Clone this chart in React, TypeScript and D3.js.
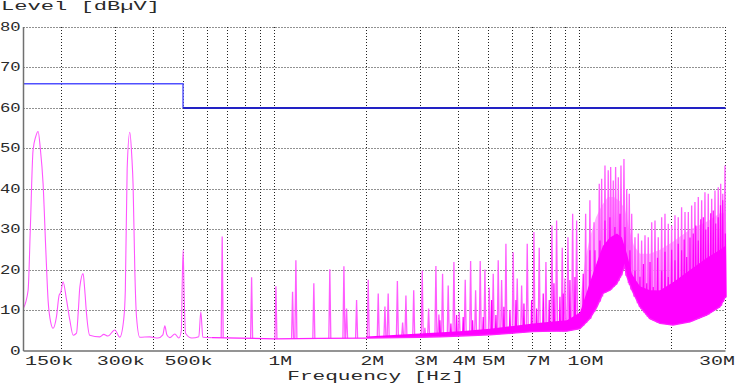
import React from 'react';
import * as d3 from 'd3';

// ---------- axis data ----------
const yTicks = [0, 10, 20, 30, 40, 50, 60, 70, 80];
const xGridMHz = [0.2, 0.3, 0.4, 0.5, 0.6, 0.7, 0.8, 0.9, 1, 2, 3, 4, 5, 6, 7, 8, 9, 10, 20, 30];
const xTickMHz = [0.15, 0.3, 0.5, 1, 2, 3, 4, 5, 7, 10, 30];
const xTickLabels = ['150k', '300k', '500k', '1M', '2M', '3M', '4M', '5M', '7M', '10M', '30M'];

// ---------- limit line ----------
const limitMHz = [0.15, 0.5, 0.5, 30];
const limitDb = [66, 66, 60, 60];

// ---------- measured trace, low band (continuous) ----------
const lowTraceMHz = [0.150, 0.1553, 0.1579, 0.1612, 0.1646, 0.1675, 0.1703, 0.1739, 0.1775, 0.1806, 0.1843, 0.1875, 0.1924, 0.1963, 0.1988, 0.2022, 0.2072, 0.2128, 0.2182, 0.2238, 0.2269, 0.2295, 0.2352, 0.2382, 0.2413, 0.2473, 0.2668, 0.2750, 0.2836, 0.2988, 0.3102, 0.3198, 0.3235, 0.3280, 0.3346, 0.3397, 0.3430, 0.3475, 0.3520, 0.3608, 0.3892, 0.4134, 0.4294, 0.4359, 0.4425, 0.4526, 0.4700, 0.4844, 0.4937, 0.4968, 0.5004, 0.5042, 0.5096, 0.5343, 0.5633, 0.5719, 0.5806, 0.6216];
const lowTraceDb = [10.6, 15, 30, 49.5, 53, 54.2, 50, 41.3, 25, 12.5, 7, 5.6, 8.5, 13.8, 14.5, 17.1, 13, 7.6, 3.9, 4.4, 10, 15.8, 19.1, 15, 9.3, 3.9, 3.5, 4.1, 3.7, 5.2, 3.4, 8, 15, 45, 54, 48, 41, 20, 8.4, 3.4, 3.5, 3.2, 4, 6.2, 4, 3.3, 4.2, 3.2, 5, 16, 25, 14, 4.4, 3.2, 3.5, 9.7, 3.4, 3.3];

// ---------- noise floor (lower edge of trace) ----------
const floorMHz = [0.622, 0.768, 1.0, 1.404, 2.003, 2.57, 2.988, 3.475, 4.043, 5.07, 6.03, 7.013, 8.155, 9.066, 10.0, 10.78, 11.37, 11.90, 12.54, 13.22, 13.73, 13.99, 14.26, 14.81, 15.73, 16.96, 18.30, 20.18, 22.95, 26.09, 28.77, 30.0];
const floorDb = [3.3, 3.2, 3.0, 3.1, 3.2, 3.3, 3.4, 3.5, 3.7, 4.0, 4.4, 4.8, 4.9, 4.9, 5.5, 8, 10.9, 14.2, 15, 16.7, 19.1, 21, 18.3, 15, 10.9, 8, 6.8, 6.4, 7.2, 8.9, 10.9, 13.4];

// ---------- dense dark band upper edge ----------
const darkTopMHz = [2.003, 2.988, 4.043, 5.07, 6.03, 7.013, 8.155, 9.066, 10.0, 10.78, 11.37, 11.90, 12.54, 13.22, 13.73, 14.26, 14.81, 15.73, 16.96, 18.30, 20.18, 22.95, 26.09, 28.77, 30.0];
const darkTopDb = [3.6, 4.3, 4.9, 5.5, 6.2, 6.8, 7.3, 7.6, 9.5, 17, 22, 26, 28, 29, 28, 24, 19, 16, 15, 15, 17, 20, 23, 25, 26];

// ---------- dense light band upper edge ----------
const pinkTopMHz = [10.0, 10.38, 10.78, 11.29, 11.81, 12.35, 12.93, 13.53, 14.05, 14.51, 15.03, 15.73, 16.96, 18.30, 20.18, 22.95, 26.09, 28.77, 30.0];
const pinkTopDb = [12, 22, 28, 33, 36, 38, 38, 37, 35, 30, 26, 24, 24, 25, 27, 30, 32, 34, 34];

// ---------- individual emission spikes ----------
const spikeMHz = [0.672, 0.839, 1.008, 1.143, 1.172, 1.342, 1.514, 1.684, 1.718, 1.853, 2.023, 2.182, 2.295, 2.352, 2.521, 2.623, 2.689, 2.852, 3.041, 3.103, 3.191, 3.372, 3.449, 3.546, 3.700, 3.863, 4.021, 4.207, 4.382, 4.550, 4.711, 4.881, 5.043, 5.197, 5.397, 5.537, 5.720, 6.043, 6.229, 6.440, 6.718, 7.066, 7.354, 7.736, 8.093, 8.385, 8.750, 8.929, 9.135, 9.465, 9.754, 10.44, 10.78, 11.12, 11.57, 11.78, 12.08, 12.38, 12.61, 12.86, 13.09, 13.36, 13.63, 13.94, 14.23, 14.51, 14.78, 15.15, 15.53, 15.93, 16.34, 16.75, 17.19, 17.62, 18.06, 18.53, 19.00, 19.48, 19.98, 20.49, 21.00, 21.54, 22.10, 22.66, 23.24, 23.82, 24.43, 25.06, 25.69, 26.34, 27.03, 27.71, 28.40, 28.93, 29.38, 29.88];
const spikeDb = [28.3, 18.2, 16.0, 14.6, 22.4, 16.7, 20.2, 20.9, 10.5, 12.6, 17.6, 14.2, 11.0, 14.2, 17.3, 7.0, 13.7, 15.0, 19.9, 5.7, 10.5, 21.0, 9.0, 19.1, 16.2, 22.0, 9.6, 17.6, 22.2, 15.0, 22.2, 20.1, 15.7, 19.1, 22.4, 17.5, 26.5, 24.4, 17.9, 16.2, 26.5, 29.4, 25.5, 22.0, 31.0, 32.2, 25.5, 17.9, 28.1, 33.9, 32.2, 33.9, 37.2, 31.8, 41.3, 42.5, 45.8, 44.6, 45.4, 42.1, 45.4, 42.9, 45.8, 47.4, 40.0, 38.8, 33.9, 28.1, 29.0, 27.3, 28.6, 28.1, 31.8, 32.2, 28.1, 33.0, 33.9, 31.4, 31.0, 33.5, 33.0, 35.5, 34.3, 34.3, 35.9, 36.8, 38.0, 37.2, 39.2, 38.8, 37.6, 39.6, 40.4, 41.3, 38.8, 45.8];

const darkSpikeMHz = [3.475, 3.776, 3.942, 4.143, 4.448, 4.819, 5.135, 5.304, 5.634, 5.895, 6.169, 6.553, 6.944, 7.211, 7.580, 7.931, 8.218, 8.598, 8.815, 9.273, 9.630, 10.25, 10.78, 11.20, 11.63, 12.08, 12.54, 13.02, 13.53, 14.05, 14.58, 15.15, 15.73, 16.15, 16.55, 16.97, 17.39, 17.96, 18.53, 19.00, 19.48, 19.98, 20.49, 21.00, 21.54, 21.96, 22.38, 22.95, 23.52, 23.98, 24.43, 24.90, 25.37, 25.85, 26.34, 26.84, 27.35, 27.87, 28.40, 28.89, 29.38, 29.96];
const darkSpikeDb = [7.6, 6.8, 8.9, 8.4, 7.6, 8.4, 12.6, 8.9, 10.9, 10.1, 12.6, 11.7, 12.6, 10.5, 14.2, 12.6, 16.7, 13.4, 14.2, 17.5, 18.3, 19.1, 24.9, 24.9, 27.3, 32.2, 33.0, 30.6, 33.9, 30.6, 24.9, 19.9, 18.3, 21.5, 16.7, 22.0, 15.8, 23.0, 19.9, 24.5, 18.3, 25.0, 22.4, 26.5, 24.9, 27.5, 23.2, 28.0, 29.0, 31.0, 27.3, 32.5, 33.0, 30.0, 30.6, 34.0, 34.7, 31.5, 33.0, 36.0, 37.2, 29.0];

const FONT = "'Liberation Mono', 'DejaVu Sans Mono', monospace";
const CHAR_W = 12.3;

export default function App() {
  const W = 736;
  const H = 384;
  const left = 23.5;
  const right = 725.5;
  const top = 27;
  const bottom = 351;

  const x = d3.scaleLog().domain([0.15, 30]).range([left, right]);
  const y = d3.scaleLinear().domain([0, 80]).range([bottom, top]);
  const snap = (v: number) => Math.round(v - 0.5) + 0.5;

  const floorAt = (f: number) => {
    const lf = Math.log10(f);
    for (let i = 0; i < floorMHz.length - 1; i++) {
      if (f >= floorMHz[i] && f <= floorMHz[i + 1]) {
        const a = Math.log10(floorMHz[i]);
        const b = Math.log10(floorMHz[i + 1]);
        const t = (lf - a) / (b - a);
        return floorDb[i] + t * (floorDb[i + 1] - floorDb[i]);
      }
    }
    return floorDb[floorDb.length - 1];
  };

  const pts = (fs: number[], ls: number[]) => fs.map((f, i) => [x(f), y(ls[i])] as [number, number]);
  const lineLin = d3.line<[number, number]>().curve(d3.curveLinear);
  const lineSmooth = d3.line<[number, number]>().curve(d3.curveMonotoneX);

  const polygon = (tf: number[], tl: number[], bf: number[], bl: number[], fmin: number) => {
    const t = pts(tf, tl).filter((_, i) => tf[i] >= fmin);
    const b = pts(bf, bl).filter((_, i) => bf[i] >= fmin).reverse();
    return 'M' + t.concat(b).map((p) => `${p[0]},${p[1]}`).join('L') + 'Z';
  };

  const spikePath = (fs: number[], ls: number[], hw: number) =>
    fs
      .map((f, i) => {
        const px = x(f);
        const fy = y(floorAt(f));
        return `M${px - hw},${fy}L${px},${y(ls[i])}L${px + hw},${fy}`;
      })
      .join('');

  const darkBand = polygon(darkTopMHz, darkTopDb, floorMHz, floorDb, 2.0);
  const pinkBand = polygon(pinkTopMHz, pinkTopDb, darkTopMHz, darkTopDb, 10.0);

  const xLabelPos = xTickMHz.map((f, i) => {
    const n = xTickLabels[i].length;
    const w = n * CHAR_W - 1;
    let l = x(f) - (n * CHAR_W) / 2 + 6;
    if (l < 25) l = 25;
    if (l + w > 735) l = 735 - w;
    return { l, w };
  });

  return (
    <svg
      width={W}
      height={H}
      style={{ position: 'absolute', left: 0, top: 0, background: '#fff' }}
      fontFamily={FONT}
    >
      <rect x={0} y={0} width={W} height={H} fill="#fff" />
      {/* grid */}
      {yTicks.filter((v) => v > 0).map((v) => (
        <line key={'gy' + v} x1={left} x2={right} y1={snap(y(v))} y2={snap(y(v))} stroke="#222" strokeWidth={1} strokeDasharray="1,2" />
      ))}
      {xGridMHz.map((f) => (
        <line key={'gx' + f} x1={snap(x(f))} x2={snap(x(f))} y1={top} y2={bottom} stroke="#222" strokeWidth={1} strokeDasharray="1,2" />
      ))}

      {/* dense bands */}
      <path d={pinkBand} fill="#ff9cff" opacity={0.8} />
      <path d={spikePath(spikeMHz, spikeDb, 1.0)} fill="none" stroke="#ff5cff" strokeWidth={1.3} />
      <path d={darkBand} fill="#ff00ff" />
      <path d={spikePath(darkSpikeMHz, darkSpikeDb, 0.6)} fill="none" stroke="#ff00ff" strokeWidth={1.2} />

      {/* trace lines */}
      <path d={lineSmooth(pts(lowTraceMHz, lowTraceDb)) || ''} fill="none" stroke="#ff55ff" strokeWidth={1.1} />
      <path d={lineLin(pts(floorMHz, floorDb)) || ''} fill="none" stroke="#ff22ff" strokeWidth={1.3} />

      {/* limit line */}
      <path d={lineLin(pts(limitMHz.slice(0, 3), limitDb.slice(0, 3))) || ''} fill="none" stroke="#5050ff" strokeWidth={1.4} />
      <path d={lineLin(pts(limitMHz.slice(2), limitDb.slice(2))) || ''} fill="none" stroke="#2222c4" strokeWidth={2} />

      {/* axes */}
      <line x1={left} x2={left} y1={top} y2={bottom} stroke="#707070" strokeWidth={1.5} />
      <line x1={left} x2={right} y1={bottom} y2={bottom} stroke="#707070" strokeWidth={1.5} />

      {/* y labels */}
      {yTicks.map((v) => {
        const s = String(v);
        const w = s.length === 1 ? 10.7 : 20.7;
        return (
          <text key={'yl' + v} x={20.7 - w} y={y(v) + 3.8} fontSize={12.5} fill="#2a2a2a" textLength={w} lengthAdjust="spacingAndGlyphs">
            {s}
          </text>
        );
      })}
      {/* x labels */}
      {xTickLabels.map((s, i) => (
        <text key={'xl' + s} x={xLabelPos[i].l} y={364.5} fontSize={12.5} fill="#2a2a2a" textLength={xLabelPos[i].w} lengthAdjust="spacingAndGlyphs">
          {s}
        </text>
      ))}
      {/* titles */}
      <text x={1} y={9.5} fontSize={12.5} fill="#2a2a2a" textLength={159} lengthAdjust="spacingAndGlyphs">
        Level [dBµV]
      </text>
      <text x={287.3} y={380} fontSize={12.5} fill="#2a2a2a" textLength={177} lengthAdjust="spacingAndGlyphs">
        Frequency [Hz]
      </text>
    </svg>
  );
}
